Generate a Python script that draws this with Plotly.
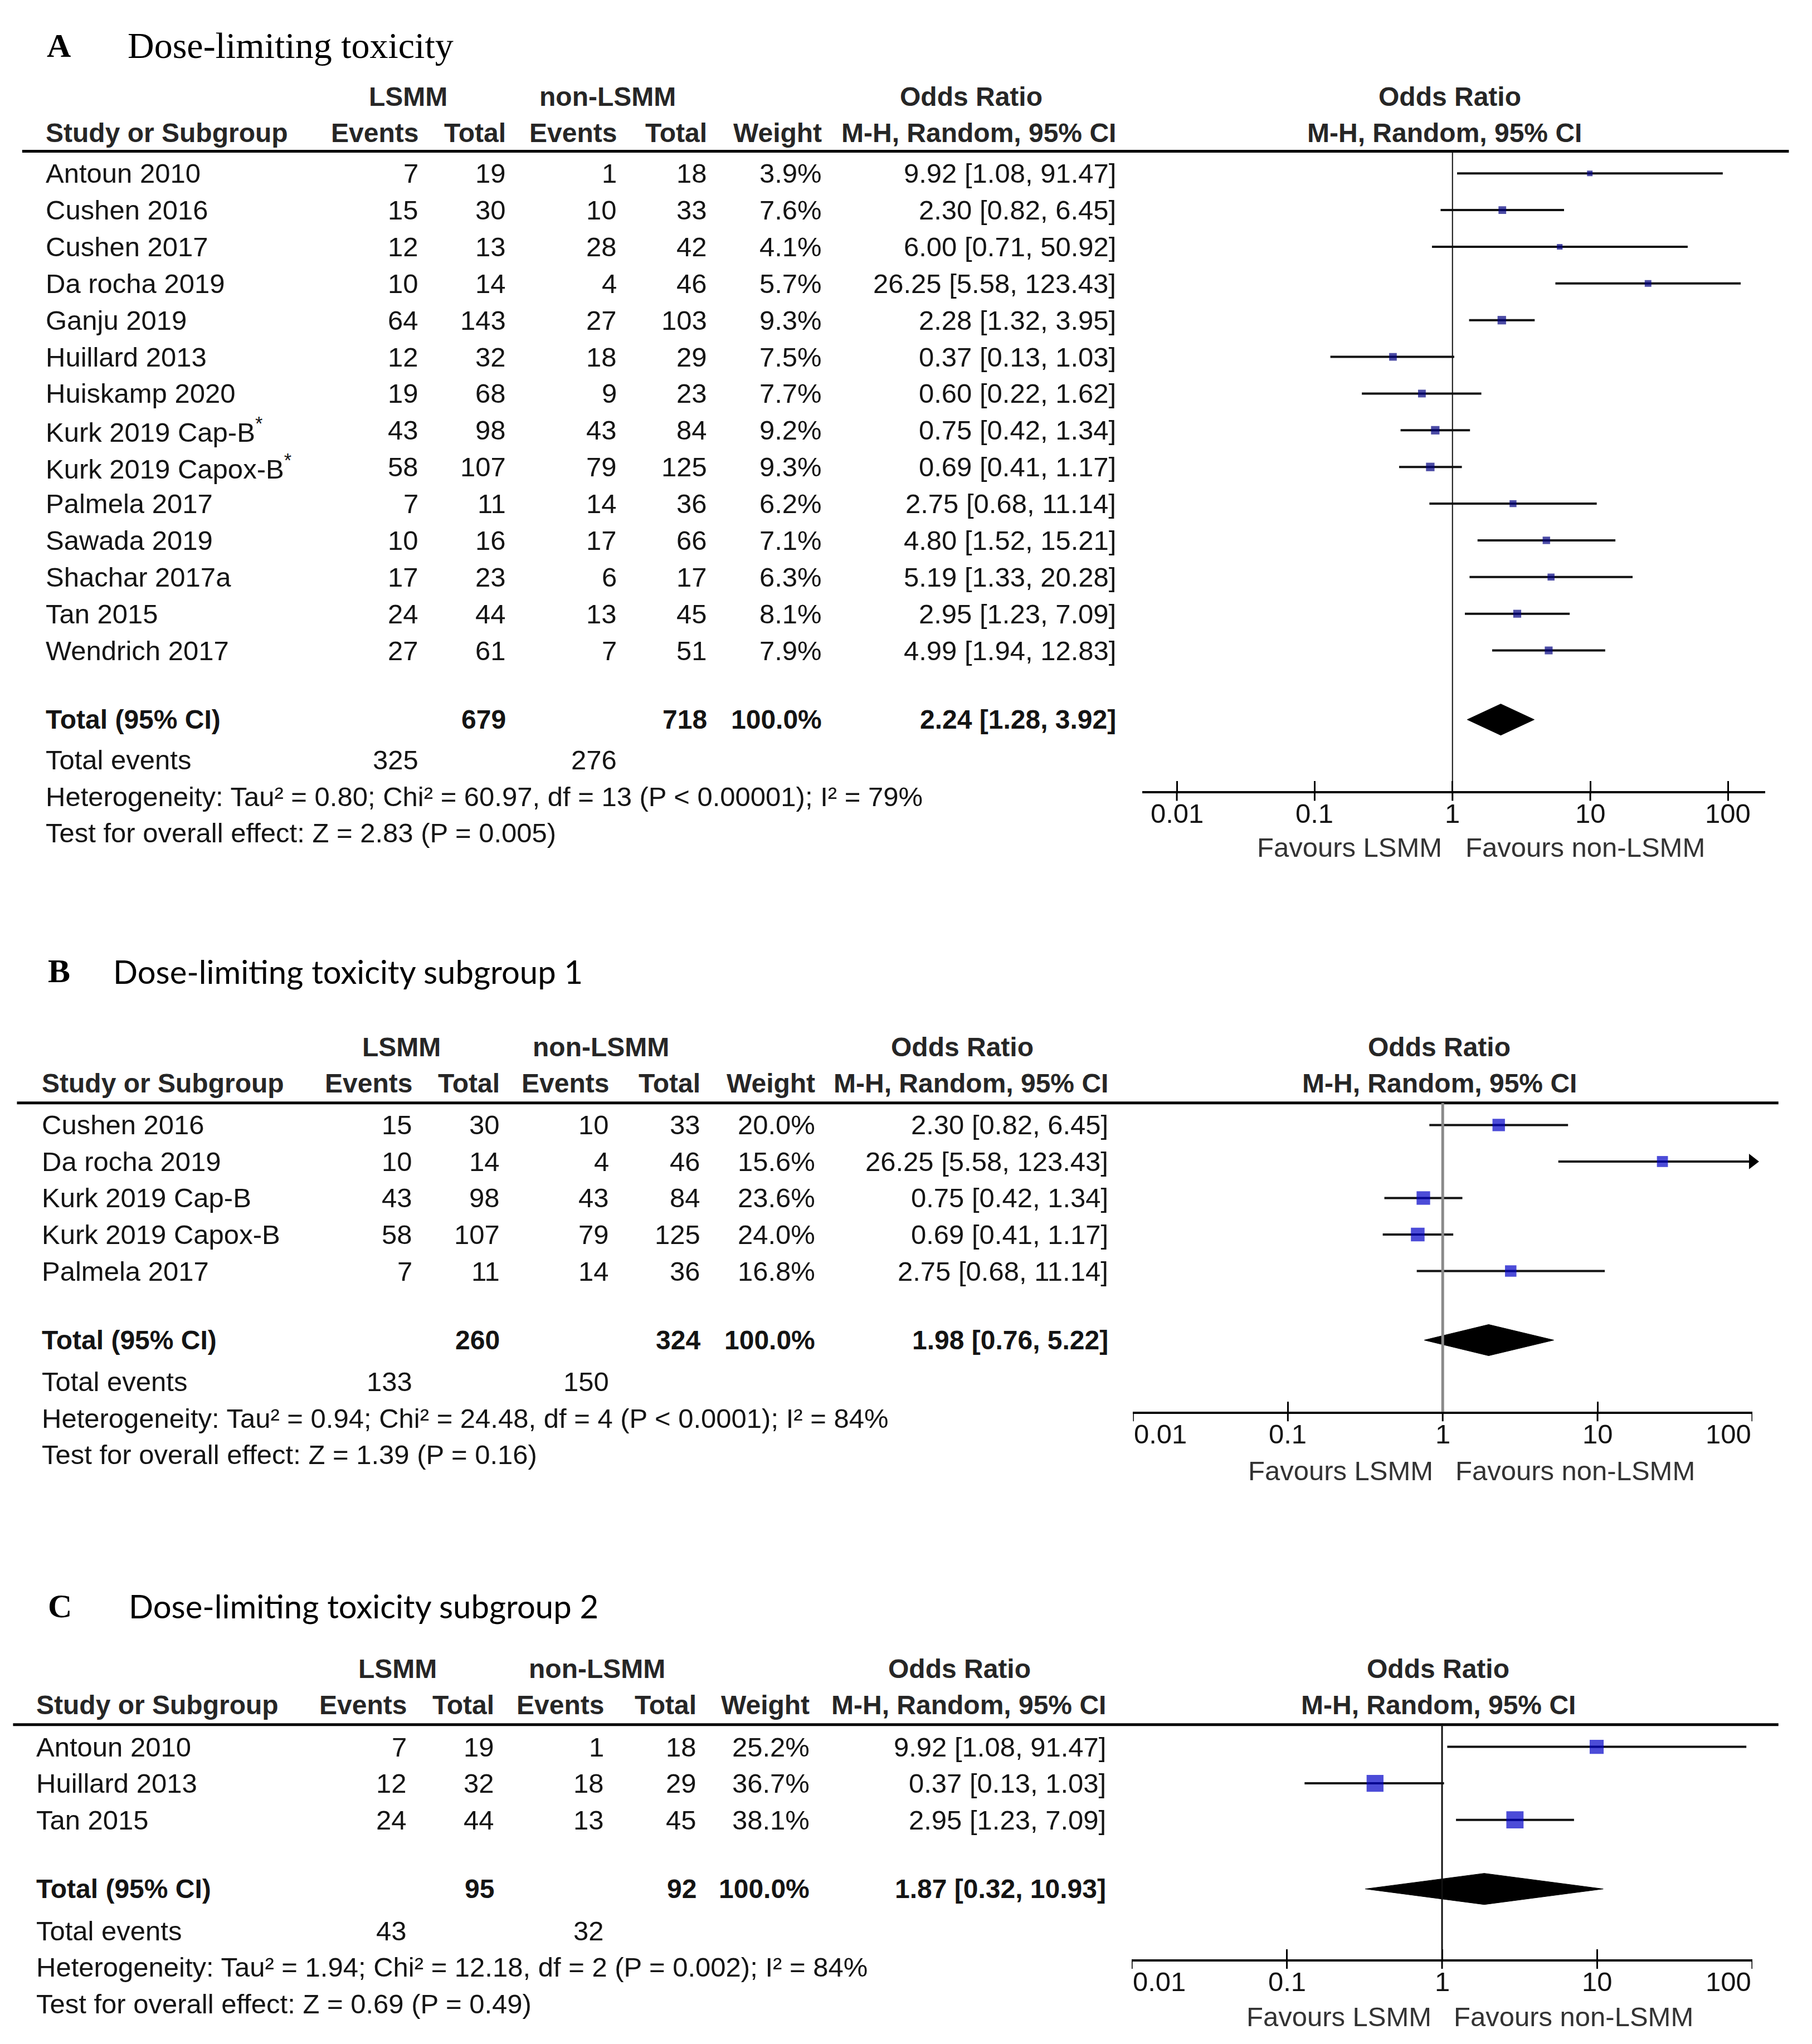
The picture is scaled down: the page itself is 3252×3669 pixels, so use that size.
import math
import plotly.graph_objects as go

W, H = 3252, 3669
S = 2.34     # layout units -> pixels
OFF = 8      # page body margin compensation (px)


def px(x):
    return (x * S - OFF) / W


def py(y):
    return 1 - (y * S - OFF) / H


# ---------------- DATA ----------------
A_study = ["Antoun 2010", "Cushen 2016", "Cushen 2017", "Da rocha 2019", "Ganju 2019",
           "Huillard 2013", "Huiskamp 2020", "Kurk 2019 Cap-B<sup>*</sup>",
           "Kurk 2019 Capox-B<sup>*</sup>", "Palmela 2017", "Sawada 2019",
           "Shachar 2017a", "Tan 2015", "Wendrich 2017"]
A_ev1 = [7, 15, 12, 10, 64, 12, 19, 43, 58, 7, 10, 17, 24, 27]
A_tot1 = [19, 30, 13, 14, 143, 32, 68, 98, 107, 11, 16, 23, 44, 61]
A_ev2 = [1, 10, 28, 4, 27, 18, 9, 43, 79, 14, 17, 6, 13, 7]
A_tot2 = [18, 33, 42, 46, 103, 29, 23, 84, 125, 36, 66, 17, 45, 51]
A_weight = [3.9, 7.6, 4.1, 5.7, 9.3, 7.5, 7.7, 9.2, 9.3, 6.2, 7.1, 6.3, 8.1, 7.9]
A_or = [9.92, 2.30, 6.00, 26.25, 2.28, 0.37, 0.60, 0.75, 0.69, 2.75, 4.80, 5.19, 2.95, 4.99]
A_lo = [1.08, 0.82, 0.71, 5.58, 1.32, 0.13, 0.22, 0.42, 0.41, 0.68, 1.52, 1.33, 1.23, 1.94]
A_hi = [91.47, 6.45, 50.92, 123.43, 3.95, 1.03, 1.62, 1.34, 1.17, 11.14, 15.21, 20.28, 7.09, 12.83]
A_total = [679, 718]
A_events = [325, 276]
A_pooled = [2.24, 1.28, 3.92]
A_het = "Heterogeneity: Tau² = 0.80; Chi² = 60.97, df = 13 (P < 0.00001); I² = 79%"
A_test = "Test for overall effect: Z = 2.83 (P = 0.005)"

B_study = ["Cushen 2016", "Da rocha 2019", "Kurk 2019 Cap-B", "Kurk 2019 Capox-B", "Palmela 2017"]
B_ev1 = [15, 10, 43, 58, 7]
B_tot1 = [30, 14, 98, 107, 11]
B_ev2 = [10, 4, 43, 79, 14]
B_tot2 = [33, 46, 84, 125, 36]
B_weight = [20.0, 15.6, 23.6, 24.0, 16.8]
B_or = [2.30, 26.25, 0.75, 0.69, 2.75]
B_lo = [0.82, 5.58, 0.42, 0.41, 0.68]
B_hi = [6.45, 123.43, 1.34, 1.17, 11.14]
B_total = [260, 324]
B_events = [133, 150]
B_pooled = [1.98, 0.76, 5.22]
B_het = "Heterogeneity: Tau² = 0.94; Chi² = 24.48, df = 4 (P < 0.0001); I² = 84%"
B_test = "Test for overall effect: Z = 1.39 (P = 0.16)"

C_study = ["Antoun 2010", "Huillard 2013", "Tan 2015"]
C_ev1 = [7, 12, 24]
C_tot1 = [19, 32, 44]
C_ev2 = [1, 18, 13]
C_tot2 = [18, 29, 45]
C_weight = [25.2, 36.7, 38.1]
C_or = [9.92, 0.37, 2.95]
C_lo = [1.08, 0.13, 1.23]
C_hi = [91.47, 1.03, 7.09]
C_total = [95, 92]
C_events = [43, 32]
C_pooled = [1.87, 0.32, 10.93]
C_het = "Heterogeneity: Tau² = 1.94; Chi² = 12.18, df = 2 (P = 0.002); I² = 84%"
C_test = "Test for overall effect: Z = 0.69 (P = 0.49)"

tick_vals = [0.01, 0.1, 1, 10, 100]
tick_text = ["0.01", "0.1", "1", "10", "100"]

# ---------------- LAYOUT SPECS ----------------
panels = [
    dict(letter="A", title="Dose-limiting toxicity", tfont="Liberation Serif", tsize=66,
         letter_x=35, title_x=97, title_y=35,
         h1=74, h2=102, line_y=116, line_x=(17, 1372), row0=133, dy=28.15,
         total_y=552, events_y=583, het_y=611, test_y=639,
         name_x=34, cols=(322, 389, 474, 543, 631, 857), h1x=(313, 466, 745, 1112), h2x=1108,
         fx=(876, 1354), one_x=1114, dec=105.7, axis_y=607, fav_y=650, fav_x=(1035, 1216),
         edge_align=False,
         mcolor="#000080", vcolor="#111111", vwidth=2,
         study=A_study, ev1=A_ev1, tot1=A_tot1, ev2=A_ev2, tot2=A_tot2, w=A_weight,
         orr=A_or, lo=A_lo, hi=A_hi, total=A_total, events=A_events, pooled=A_pooled,
         het=A_het, test=A_test),
    dict(letter="B", title="Dose-limiting toxicity subgroup 1", tfont="Lato", tsize=58,
         letter_x=36, title_x=86, title_y=745,
         h1=803, h2=831, line_y=846, line_x=(13, 1364), row0=863, dy=28.0,
         total_y=1028, events_y=1060, het_y=1088, test_y=1116,
         name_x=31, cols=(317, 384, 468, 538, 626, 851), h1x=(308, 461, 738, 1104), h2x=1104,
         fx=(869, 1344), one_x=1106.5, dec=118.75, axis_y=1083, fav_y=1128, fav_x=(1028, 1208),
         edge_align=True,
         mcolor="#0000c8", vcolor="#8a8a8a", vwidth=5,
         study=B_study, ev1=B_ev1, tot1=B_tot1, ev2=B_ev2, tot2=B_tot2, w=B_weight,
         orr=B_or, lo=B_lo, hi=B_hi, total=B_total, events=B_events, pooled=B_pooled,
         het=B_het, test=B_test),
    dict(letter="C", title="Dose-limiting toxicity subgroup 2", tfont="Lato", tsize=58,
         letter_x=36, title_x=98, title_y=1232,
         h1=1280, h2=1308, line_y=1323, line_x=(10, 1364), row0=1340, dy=28.0,
         total_y=1449, events_y=1481, het_y=1509, test_y=1537,
         name_x=27, cols=(313, 380, 464, 535, 622, 849), h1x=(305, 458, 736, 1103), h2x=1103,
         fx=(868, 1344), one_x=1106, dec=119.0, axis_y=1503, fav_y=1547, fav_x=(1027, 1207),
         edge_align=True,
         mcolor="#0000c8", vcolor="#111111", vwidth=3,
         study=C_study, ev1=C_ev1, tot1=C_tot1, ev2=C_ev2, tot2=C_tot2, w=C_weight,
         orr=C_or, lo=C_lo, hi=C_hi, total=C_total, events=C_events, pooled=C_pooled,
         het=C_het, test=C_test),
]

FS = 49
FSB = 48
TXT = "#141414"
HDR = "#262626"
SANS = "Liberation Sans"

fig = go.Figure()
ann = []
shapes = []
layout = {}


def T(x, y, text, xanchor="left", size=FS, bold=False, family=SANS, color=TXT):
    if bold:
        text = "<b>" + text + "</b>"
    ann.append(dict(x=px(x), y=py(y), xref="paper", yref="paper", text=text,
                    showarrow=False, xanchor=xanchor, yanchor="middle",
                    font=dict(size=size, family=family, color=color)))


def ci(o, l, h):
    return f"{o:.2f} [{l:.2f}, {h:.2f}]"


for k, p in enumerate(panels):
    n = "" if k == 0 else str(k + 1)
    xa, ya = "x" + n, "y" + n
    c = p["cols"]

    # titles
    T(p["letter_x"], p["title_y"], p["letter"], size=60, bold=True,
      family="Liberation Serif", color="#000000")
    T(p["title_x"], p["title_y"], p["title"], size=p["tsize"], family=p["tfont"], color="#000000")

    # headers
    T(p["h1x"][0], p["h1"], "LSMM", "center", size=FSB, bold=True, color=HDR)
    T(p["h1x"][1], p["h1"], "non-LSMM", "center", size=FSB, bold=True, color=HDR)
    T(p["h1x"][2], p["h1"], "Odds Ratio", "center", size=FSB, bold=True, color=HDR)
    T(p["h1x"][3], p["h1"], "Odds Ratio", "center", size=FSB, bold=True, color=HDR)
    T(p["name_x"], p["h2"], "Study or Subgroup", size=FSB, bold=True, color=HDR)
    for xr, lab in zip(c, ["Events", "Total", "Events", "Total", "Weight", "M-H, Random, 95% CI"]):
        T(xr, p["h2"], lab, "right", size=FSB, bold=True, color=HDR)
    T(p["h2x"], p["h2"], "M-H, Random, 95% CI", "center", size=FSB, bold=True, color=HDR)

    shapes.append(dict(type="line", xref="paper", yref="paper",
                       x0=px(p["line_x"][0]), x1=px(p["line_x"][1]),
                       y0=py(p["line_y"]), y1=py(p["line_y"]),
                       line=dict(color="black", width=5)))

    # study rows
    for i, name in enumerate(p["study"]):
        y = p["row0"] + p["dy"] * i
        T(p["name_x"], y, name)
        T(c[0], y, str(p["ev1"][i]), "right")
        T(c[1], y, str(p["tot1"][i]), "right")
        T(c[2], y, str(p["ev2"][i]), "right")
        T(c[3], y, str(p["tot2"][i]), "right")
        T(c[4], y, f"{p['w'][i]:.1f}%", "right")
        T(c[5], y, ci(p["orr"][i], p["lo"][i], p["hi"][i]), "right")

    # totals
    T(p["name_x"], p["total_y"], "Total (95% CI)", size=FSB, bold=True)
    T(c[1], p["total_y"], str(p["total"][0]), "right", size=FSB, bold=True)
    T(c[3], p["total_y"], str(p["total"][1]), "right", size=FSB, bold=True)
    T(c[4], p["total_y"], "100.0%", "right", size=FSB, bold=True)
    T(c[5], p["total_y"], ci(*p["pooled"]), "right", size=FSB, bold=True)
    T(p["name_x"], p["events_y"], "Total events")
    T(c[0], p["events_y"], str(p["events"][0]), "right")
    T(c[2], p["events_y"], str(p["events"][1]), "right")
    T(p["name_x"], p["het_y"], p["het"])
    T(p["name_x"], p["test_y"], p["test"])

    # favours
    T(p["fav_x"][0], p["fav_y"], "Favours LSMM", "center", color="#333333")
    T(p["fav_x"][1], p["fav_y"], "Favours non-LSMM", "center", color="#333333")

    # axes
    r0 = (p["fx"][0] - p["one_x"]) / p["dec"]
    r1 = (p["fx"][1] - p["one_x"]) / p["dec"]
    dom_px = (p["axis_y"] - p["line_y"]) * S
    layout["xaxis" + n] = dict(domain=[px(p["fx"][0]), px(p["fx"][1])], anchor=ya, type="log",
                               range=[r0, r1], showgrid=False, zeroline=False, showline=True,
                               linecolor="black", linewidth=4, ticks="inside", ticklen=18,
                               tickwidth=3, tickcolor="black", tickvals=tick_vals,
                               showticklabels=False, fixedrange=True)
    layout["yaxis" + n] = dict(domain=[py(p["axis_y"]), py(p["line_y"])], anchor=xa,
                               range=[(p["axis_y"] - p["row0"]) / p["dy"],
                                      (p["line_y"] - p["row0"]) / p["dy"]],
                               visible=False, fixedrange=True)

    # downward tick halves and tick labels
    for j, (v, t) in enumerate(zip(tick_vals, tick_text)):
        shapes.append(dict(type="line", xref=xa, yref=ya + " domain", x0=v, x1=v,
                           y0=0, y1=-17 / dom_px, line=dict(color="black", width=3)))
        anc = "center"
        if p["edge_align"] and j == 0:
            anc = "left"
        if p["edge_align"] and j == len(tick_vals) - 1:
            anc = "right"
        ann.append(dict(x=math.log10(v), xref=xa, y=py(p["axis_y"]) - 40 / H, yref="paper",
                        text=t, showarrow=False, xanchor=anc, yanchor="middle",
                        font=dict(size=FS, family=SANS, color="#111111")))
    # line of no effect
    shapes.append(dict(type="line", xref=xa, yref=ya + " domain", x0=1, x1=1, y0=0, y1=1,
                       line=dict(color=p["vcolor"], width=p["vwidth"])))

    rows = list(range(len(p["study"])))
    # CI lines
    lx, ly = [], []
    for i in rows:
        lx += [p["lo"][i], p["hi"][i], None]
        ly += [i, i, None]
    fig.add_trace(go.Scatter(x=lx, y=ly, mode="lines", xaxis=xa, yaxis=ya,
                             line=dict(color="#111111", width=4), hoverinfo="skip"))
    # arrows for CIs beyond axis
    xmax = 10 ** r1
    arr_x = [xmax for i in rows if p["hi"][i] > xmax]
    arr_y = [i for i in rows if p["hi"][i] > xmax]
    if arr_x:
        fig.add_trace(go.Scatter(x=arr_x, y=arr_y, mode="markers", xaxis=xa, yaxis=ya,
                                 marker=dict(symbol="triangle-right", size=24, color="black"),
                                 cliponaxis=False, hoverinfo="skip"))
    # squares
    fig.add_trace(go.Scatter(x=p["orr"], y=rows, mode="markers", xaxis=xa, yaxis=ya,
                             marker=dict(symbol="square", color=p["mcolor"],
                                         size=[5.0 * math.sqrt(w) for w in p["w"]],
                                         line=dict(width=0)),
                             hoverinfo="skip"))
    # diamond
    rt = (p["total_y"] - p["row0"]) / p["dy"]
    hh = 28 / (p["dy"] * S)
    o, l, h = p["pooled"]
    fig.add_trace(go.Scatter(x=[l, o, h, o, l], y=[rt, rt - hh, rt, rt + hh, rt],
                             mode="lines", fill="toself", fillcolor="black",
                             line=dict(color="black", width=1), xaxis=xa, yaxis=ya,
                             hoverinfo="skip"))

fig.update_layout(width=W, height=H, margin=dict(l=0, r=0, t=0, b=0),
                  paper_bgcolor="white", plot_bgcolor="white", showlegend=False,
                  annotations=ann, shapes=shapes, **layout)

fig.write_html("out.html")
